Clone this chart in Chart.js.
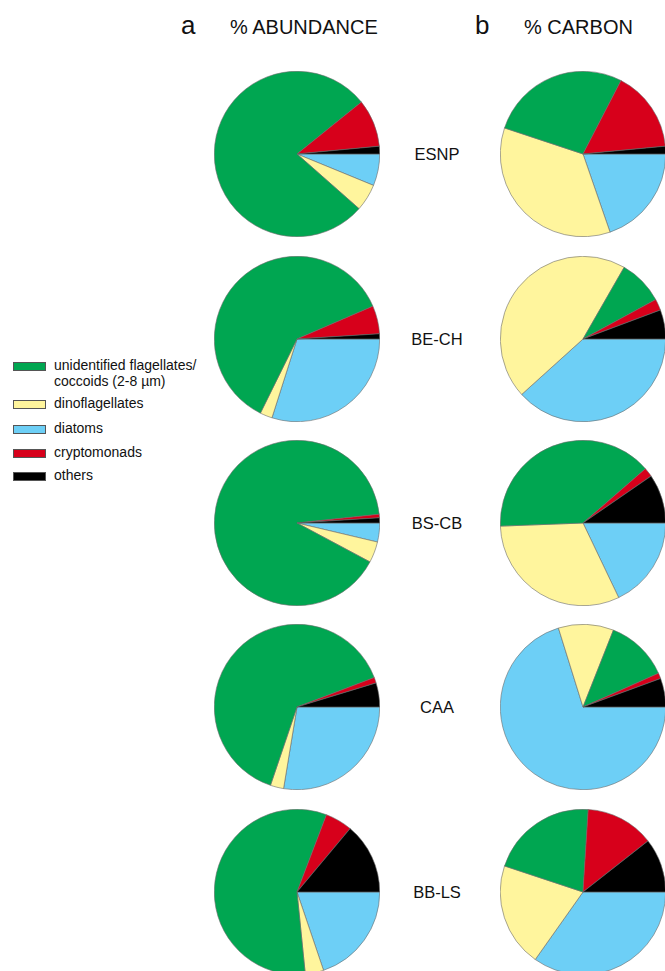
<!DOCTYPE html>
<html>
<head>
<meta charset="utf-8">
<script src="https://cdn.jsdelivr.net/npm/chart.js@4.4.1/dist/chart.umd.min.js"></script>
<style>
  html, body { margin: 0; padding: 0; background: #fff; }
  body { width: 665px; height: 971px; position: relative; overflow: hidden;
         font-family: "Liberation Sans", Arial, sans-serif; color: #111; }
  .abs { position: absolute; white-space: nowrap; line-height: 1; }
  .panel { font-size: 26px; }
  .title { font-size: 20px; }
  .station { font-size: 16.5px; width: 80px; text-align: center; }
  .pie { position: absolute; }
  .legend-row { position: absolute; left: 13px; font-size: 14px; line-height: 16px; }
  .swatch { position: absolute; left: 0; width: 31px; height: 7px; border: 0.5px solid #555; }
  .legend-text { position: absolute; left: 41px; top: 0; white-space: nowrap; }
</style>
</head>
<body>

<div class="abs panel" style="left:181px; top:12px;">a</div>
<div class="abs title" style="left:230px; top:17px;">% ABUNDANCE</div>
<div class="abs panel" style="left:475px; top:12px;">b</div>
<div class="abs title" style="left:524px; top:17px;">% CARBON</div>

<div id="legend"></div>

<script>
// group names, in the order of the legend
const categories = ['unidentified flagellates/\ncoccoids (2-8 µm)', 'dinoflagellates', 'diatoms', 'cryptomonads', 'others'];
const colors = ['#00a651', '#fff59d', '#6dcff6', '#d7001b', '#000000'];

const stations = ['ESNP', 'BE-CH', 'BS-CB', 'CAA', 'BB-LS'];

// % abundance per station, same order as categories
const abundance = [
    [77.7, 5.3, 6.2, 9.3, 1.5],
    [61.2, 2.4, 29.9, 5.5, 1.0],
    [90.5, 4.1, 3.7, 0.7, 1.0],
    [64.0, 2.6, 27.6, 1.1, 4.7],
    [57.4, 3.6, 19.8, 5.3, 13.9]
];

// % carbon per station
const carbon = [
    [27.5, 35.4, 19.7, 15.9, 1.5],
    [8.8, 45.0, 38.3, 2.2, 5.7],
    [39.2, 31.5, 17.9, 1.8, 9.6],
    [12.3, 10.8, 70.2, 1.1, 5.6],
    [20.9, 20.3, 34.8, 13.4, 10.6]
];

// slices go clockwise from 3 o'clock: diatoms, dinos, flagellates, crypto, others
const sliceOrder = [2, 1, 0, 3, 4];

const rowCenters = [154, 339, 523, 707, 892];
const colCenters = [296.5, 583];
const pieSize = 166;

function addPie(cx, cy, values) {
    const canvas = document.createElement('canvas');
    canvas.className = 'pie';
    canvas.width = pieSize;
    canvas.height = pieSize;
    canvas.style.left = (cx - pieSize / 2) + 'px';
    canvas.style.top = (cy - pieSize / 2) + 'px';
    canvas.style.width = pieSize + 'px';
    canvas.style.height = pieSize + 'px';
    document.body.appendChild(canvas);

    new Chart(canvas.getContext('2d'), {
        type: 'pie',
        data: {
            labels: sliceOrder.map(i => categories[i]),
            datasets: [{
                data: sliceOrder.map(i => values[i]),
                backgroundColor: sliceOrder.map(i => colors[i]),
                borderColor: '#6b6b6b',
                borderWidth: 0.6
            }]
        },
        options: {
            responsive: false,
            animation: false,
            rotation: 90,
            layout: { padding: 0 },
            plugins: {
                legend: { display: false },
                tooltip: { enabled: false }
            }
        }
    });
}

function addStationLabel(name, cy) {
    const div = document.createElement('div');
    div.className = 'abs station';
    div.textContent = name;
    div.style.left = (437 - 40) + 'px';
    div.style.top = (cy - 8) + 'px';
    document.body.appendChild(div);
}

function buildLegend() {
    const tops = [356.5, 395, 420, 444, 467];
    const legend = document.getElementById('legend');
    categories.forEach((name, i) => {
        const row = document.createElement('div');
        row.className = 'legend-row';
        row.style.top = tops[i] + 'px';
        row.innerHTML = `<div class="swatch" style="top:5px;background:${colors[i]}"></div>` +
            `<div class="legend-text">${name.replace('\n', '<br>')}</div>`;
        legend.appendChild(row);
    });
}

stations.forEach((name, r) => {
    addPie(colCenters[0], rowCenters[r], abundance[r]);
    addPie(colCenters[1], rowCenters[r], carbon[r]);
    addStationLabel(name, rowCenters[r]);
});
buildLegend();
</script>
</body>
</html>
